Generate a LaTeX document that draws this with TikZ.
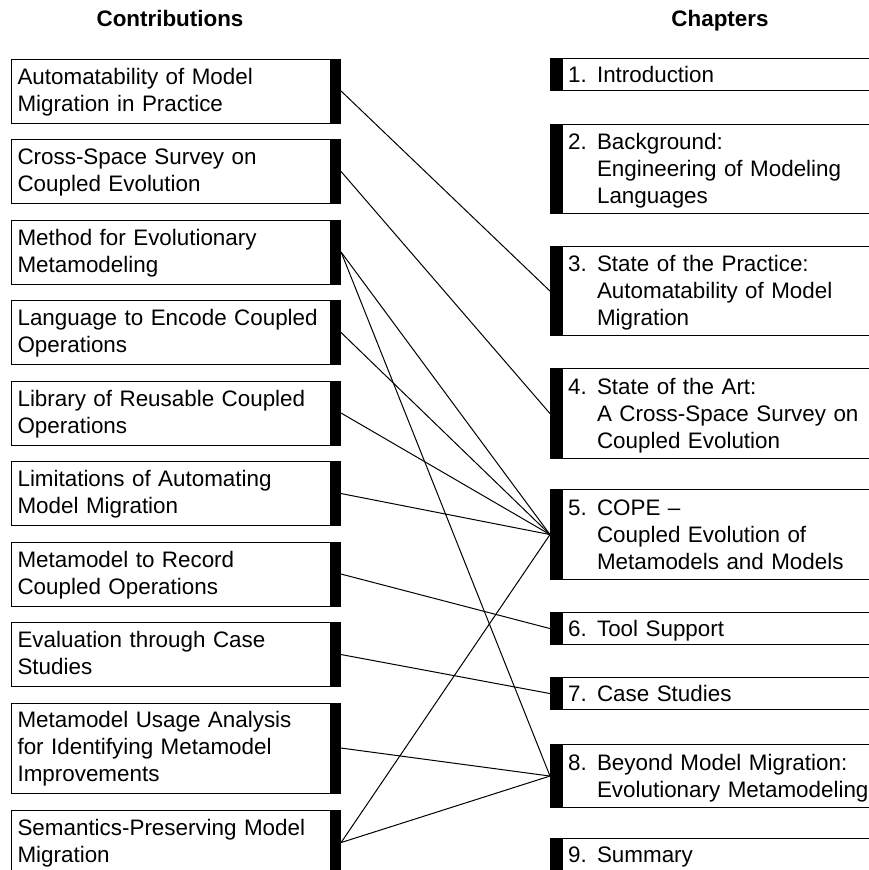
\documentclass[tikz,border=0pt]{standalone}
\usepackage{fontspec}
\setmainfont{Liberation Sans}
% text block of a contribution box: one line per row
\newcommand\contriblines[1]{\raisebox{-1.5pt}[\height][\depth]{%
  \begin{tabular}{@{}l@{}}#1\end{tabular}}}
% numbered chapter title with hanging indent, set slightly low in its box
\newcommand\chapterlines[2]{\raisebox{-2.5pt}[\height][\depth]{%
  \begin{tabular}{@{}p{29pt}@{}l@{}}#1&#2\end{tabular}}}
\begin{document}
\begin{tikzpicture}[x=1pt,y=-1pt,
  every node/.style={font=\fontsize{22.4}{27}\selectfont},
  head/.style={font=\fontsize{22.4}{27}\selectfont\bfseries, anchor=base},
  contrib/.style={draw, line width=1.1pt, anchor=north west, inner ysep=0pt,
    inner xsep=6pt, text width=317pt, minimum height=64pt,
    path picture={\fill (path picture bounding box.north east) rectangle
      ([xshift=-11pt]path picture bounding box.south east);}},
  chapter/.style={draw, line width=1.1pt, anchor=north west, inner ysep=0pt,
    inner xsep=17.5pt, text width=320pt, minimum height=32pt,
    path picture={\fill (path picture bounding box.north west) rectangle
      ([xshift=12pt]path picture bounding box.south west);}},
  link/.style={line width=1pt}]
\clip (0,0) rectangle (869,870);

% column headings
\node[head] (hc) at (170,27) {Contributions};
\node[head] (hh) at (720,27) {Chapters};

% contributions
\node[contrib] (c1) at (11,58.5) {\contriblines{Automatability of Model\\Migration in Practice}};
\node[contrib] (c2) at (11,139) {\contriblines{Cross-Space Survey on\\Coupled Evolution}};
\node[contrib] (c3) at (11,219.5) {\contriblines{Method for Evolutionary\\Metamodeling}};
\node[contrib] (c4) at (11,300) {\contriblines{Language to Encode Coupled\\Operations}};
\node[contrib] (c5) at (11,380.5) {\contriblines{Library of Reusable Coupled\\Operations}};
\node[contrib] (c6) at (11,461) {\contriblines{Limitations of Automating\\Model Migration}};
\node[contrib] (c7) at (11,541.5) {\contriblines{Metamodel to Record\\Coupled Operations}};
\node[contrib] (c8) at (11,622) {\contriblines{Evaluation through Case\\Studies}};
\node[contrib, minimum height=90pt] (c9) at (11,702.5) {\contriblines{Metamodel Usage Analysis\\for Identifying Metamodel\\Improvements}};
\node[contrib] (c10) at (11,810) {\contriblines{Semantics-Preserving Model\\Migration}};

% chapters
\node[chapter] (k1) at (550,58) {\chapterlines{1.}{Introduction}};
\node[chapter, minimum height=89pt] (k2) at (550,124) {\chapterlines{2.}{Background:\\&Engineering of Modeling\\&Languages}};
\node[chapter, minimum height=89pt] (k3) at (550,246) {\chapterlines{3.}{State of the Practice:\\&Automatability of Model\\&Migration}};
\node[chapter, minimum height=90pt] (k4) at (550,368) {\chapterlines{4.}{State of the Art:\\&A Cross-Space Survey on\\&Coupled Evolution}};
\node[chapter, minimum height=90pt] (k5) at (550,489) {\chapterlines{5.}{COPE --\\&Coupled Evolution of\\&Metamodels and Models}};
\node[chapter] (k6) at (550,612) {\chapterlines{6.}{Tool Support}};
\node[chapter] (k7) at (550,677) {\chapterlines{7.}{Case Studies}};
\node[chapter, minimum height=63pt] (k8) at (550,744) {\chapterlines{8.}{Beyond Model Migration:\\&Evolutionary Metamodeling}};
\node[chapter] (k9) at (550,838) {\chapterlines{9.}{Summary}};

% contribution-to-chapter links
\draw[link] (c1.east) -- (k3.west);
\draw[link] (c2.east) -- (k4.west);
\draw[link] (c3.east) -- (k5.west);
\draw[link] (c3.east) -- (k8.west);
\draw[link] (c4.east) -- (k5.west);
\draw[link] (c5.east) -- (k5.west);
\draw[link] (c6.east) -- (k5.west);
\draw[link] (c7.east) -- (k6.west);
\draw[link] (c8.east) -- (k7.west);
\draw[link] (c9.east) -- (k8.west);
\draw[link] (c10.east) -- (k5.west);
\draw[link] (c10.east) -- (k8.west);
\end{tikzpicture}
\end{document}
